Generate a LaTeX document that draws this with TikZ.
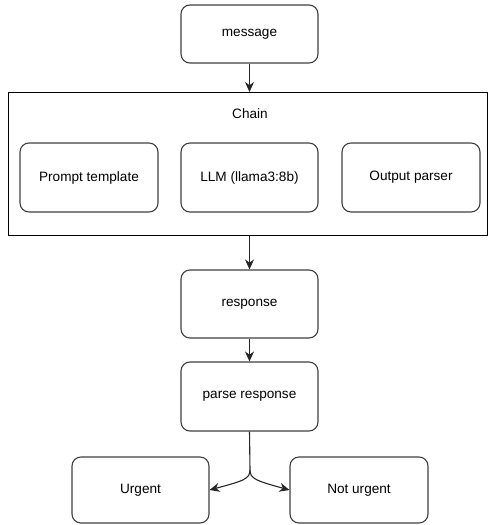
\documentclass[tikz,border=0pt]{standalone}
\usepackage{fontspec}
\setmainfont{Liberation Sans}
\usetikzlibrary{arrows.meta}
\begin{document}
\begin{tikzpicture}[x=1pt,y=-1pt,
  box/.style={draw=black!75,line width=1.1pt,rounded corners=9pt,fill=white,font=\fontsize{13.6}{16}\selectfont},
  arr/.style={draw=black!85,line width=1.1pt,-{Stealth[length=10pt,width=9pt]}},
  ln/.style={draw=black!85,line width=1.1pt}]
\useasboundingbox (0,0) rectangle (488,525);
\node[draw=black,line width=1.1pt,minimum width=479pt,minimum height=143pt,anchor=north west,inner sep=0pt] (chain) at (8,92) {};
\node[font=\fontsize{13.6}{16}\selectfont] (chainlbl) at (250,114) {Chain};
\node[box,minimum width=137pt,minimum height=58pt] (msg) at (249.5,34) {message};
\node[box,minimum width=138pt,minimum height=69pt] (pt) at (89,177.5) {Prompt template};
\node[box,minimum width=137pt,minimum height=69pt] (llm) at (249.5,177.5) {LLM (llama3:8b)};
\node[box,minimum width=138pt,minimum height=69pt] (op) at (411,177.5) {Output parser};
\node[box,minimum width=137pt,minimum height=68pt] (resp) at (249.5,304) {response};
\node[box,minimum width=137pt,minimum height=69pt] (parse) at (249.5,396.5) {parse response};
\node[box,minimum width=137pt,minimum height=66pt] (urg) at (140.5,490) {Urgent};
\node[box,minimum width=138pt,minimum height=66pt] (nurg) at (359,490) {Not urgent};
\draw[arr] (msg.south) -- (msg.south |- chain.north);
\draw[arr] (resp.north |- chain.south) -- (resp.north);
\draw[arr] (resp.south) -- (parse.north);
\coordinate (split) at (250,470);
\draw[ln] (parse.south) -- (split);
\draw[arr] (split) .. controls (250,479) and (243,481) .. (urg.east);
\draw[arr] (split) .. controls (250,479) and (257,481) .. (nurg.west);
\end{tikzpicture}
\end{document}
